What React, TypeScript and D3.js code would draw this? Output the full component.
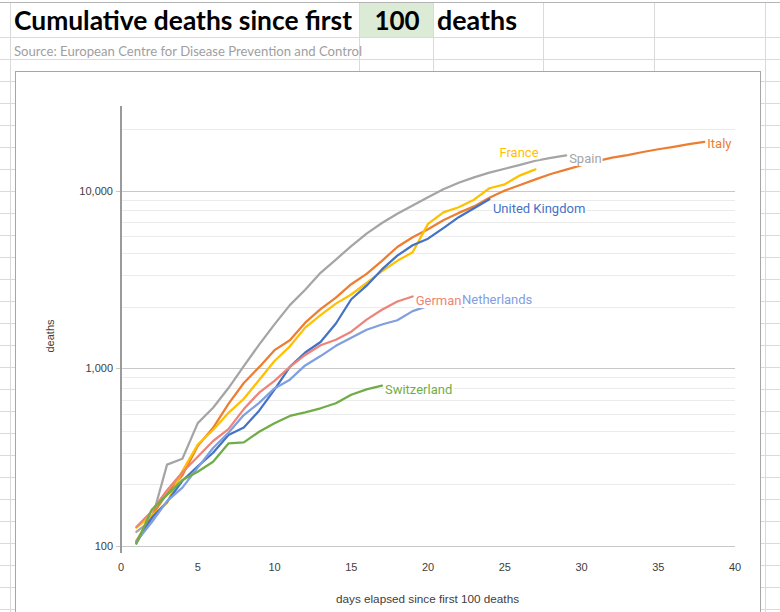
import React, { useEffect, useRef } from "react";
import * as d3 from "d3";

// cumulative deaths, day 1 = first day with 100+ deaths
const unitedKingdom = [104, 144, 177, 233, 281, 335, 422, 465, 578, 759, 1019, 1228, 1408, 1789, 2450, 2921, 3605, 4313, 4934, 5373, 6159, 7097, 7978, 8958];
const italy = [107, 148, 197, 250, 366, 463, 631, 827, 1016, 1266, 1441, 1809, 2158, 2503, 2978, 3405, 4032, 4825, 5476, 6077, 6820, 7503, 8165, 9134, 10023, 10779, 11591, 12428, 13155, 13915, 14681, 15362, 15887, 16523, 17127, 17669, 18279, 18849];
const spain = [120, 140, 287, 310, 492, 600, 775, 1030, 1360, 1770, 2270, 2770, 3450, 4100, 4880, 5740, 6580, 7420, 8270, 9200, 10200, 11100, 11900, 12650, 13300, 14000, 14750, 15300, 15800];
const france = [127, 148, 175, 264, 372, 450, 562, 674, 860, 1100, 1331, 1696, 1995, 2314, 2606, 3024, 3523, 4032, 4503, 6507, 7560, 8078, 8911, 10328, 10869, 12210, 13197];
const germany = [128, 157, 206, 260, 318, 390, 455, 590, 730, 850, 1020, 1190, 1350, 1450, 1610, 1880, 2140, 2380, 2540];
const netherlands = [106, 136, 179, 213, 276, 356, 434, 546, 639, 771, 864, 1039, 1173, 1339, 1487, 1651, 1766, 1867, 2101, 2248];
const switzerland = [103, 160, 194, 235, 262, 298, 378, 383, 440, 491, 540, 565, 596, 636, 710, 762, 800];

const seriesNames = ["Spain", "Italy", "France", "United Kingdom", "Germany", "Netherlands", "Switzerland"];
const seriesValues = [spain, italy, france, unitedKingdom, germany, netherlands, switzerland];
const seriesColors = ["#a5a5a5", "#ed7d31", "#ffc000", "#4472c4", "#ec8479", "#7f9fdf", "#70ad47"];
// label offset from the last point of each series (dx, dy of label centre-left)
const labelOffsets: [number, number][] = [[3, 3.5], [3, 2], [-36, -17], [3.5, 9.5], [3, 4.5], [34, -6], [3, 3.5]];

const xTicks = [0, 5, 10, 15, 20, 25, 30, 35, 40];
const yTicks = [100, 1000, 10000];
const yMinor = [100, 1000, 10000].flatMap((b) => [2, 3, 4, 5, 6, 7, 8].map((k) => (b * 10 * k) / 9)).filter((v) => v < 30000);

const W = 780;
const H = 612;

const CumulativeDeaths: React.FC = () => {
  const svgRef = useRef<SVGSVGElement>(null);

  useEffect(() => {
    if (!svgRef.current) return;
    const svg = d3.select(svgRef.current).html("");

    // ---- spreadsheet behind the chart
    svg.append("rect").attr("width", W).attr("height", H).attr("fill", "#ffffff");
    svg.append("rect").attr("x", 359.5).attr("y", 2.5).attr("width", 74).attr("height", 35).attr("fill", "#dcebd5");

    const rowLines = [37.5, 59.5];
    for (let yy = 81.5; yy < H; yy += 22) rowLines.push(yy);
    svg.selectAll("line.row").data(rowLines).join("line")
      .attr("x1", 0).attr("x2", W).attr("y1", (d) => d).attr("y2", (d) => d)
      .attr("stroke", "#dadada");
    svg.selectAll("line.col").data([10.5, 359.5, 433.5, 543.5, 654.5, 765.5]).join("line")
      .attr("x1", (d) => d).attr("x2", (d) => d).attr("y1", 2.5).attr("y2", H)
      .attr("stroke", "#dadada");
    svg.append("line").attr("x1", 0).attr("x2", W).attr("y1", 2.5).attr("y2", 2.5).attr("stroke", "#b4b4b4");

    const title = svg.append("g").attr("font-family", "Lato, 'Open Sans', sans-serif").attr("font-weight", "bold").attr("font-size", 26).attr("fill", "#000");
    title.append("text").attr("x", 14).attr("y", 30).attr("textLength", 338).attr("lengthAdjust", "spacingAndGlyphs").text("Cumulative deaths since first");
    title.append("text").attr("x", 397).attr("y", 30).attr("text-anchor", "middle").text("100");
    title.append("text").attr("x", 437).attr("y", 30).attr("textLength", 80).attr("lengthAdjust", "spacingAndGlyphs").text("deaths");

    svg.append("text").attr("x", 14).attr("y", 55.5).attr("font-family", "Lato, 'Open Sans', sans-serif").attr("font-size", 13)
      .attr("fill", "#a0a0a0").attr("textLength", 348).attr("lengthAdjust", "spacingAndGlyphs")
      .text("Source: European Centre for Disease Prevention and Control");

    // ---- chart area
    svg.append("rect").attr("x", 15.5).attr("y", 71.5).attr("width", 745).attr("height", 600)
      .attr("fill", "#ffffff").attr("stroke", "#a6a6a6");

    const x = d3.scaleLinear().domain([0, 40]).range([121, 735]);
    const y = d3.scaleLog().domain([100, 30000]).range([546, 106]);

    const grid = svg.append("g");
    grid.selectAll("line.minor").data(yMinor).join("line")
      .attr("x1", x(0)).attr("x2", x(40)).attr("y1", (d) => Math.round(y(d)) + 0.5).attr("y2", (d) => Math.round(y(d)) + 0.5)
      .attr("stroke", "#ebebeb");
    grid.selectAll("line.major").data(yTicks).join("line")
      .attr("x1", x(0) - 5).attr("x2", x(40)).attr("y1", (d) => Math.round(y(d)) + 0.5).attr("y2", (d) => Math.round(y(d)) + 0.5)
      .attr("stroke", "#c8c8c8");

    // y axis line
    svg.append("line").attr("x1", x(0)).attr("x2", x(0)).attr("y1", y(30000)).attr("y2", y(100) + 7)
      .attr("stroke", "#9a9a9a").attr("stroke-width", 2);

    const axisFont = "'Liberation Sans', Arial, sans-serif";
    svg.append("g").selectAll("text").data(yTicks).join("text")
      .attr("x", 113).attr("y", (d) => y(d) + 4).attr("text-anchor", "end")
      .attr("font-family", axisFont).attr("font-size", 11).attr("fill", "#404040")
      .text((d) => d3.format(",")(d));
    svg.append("g").selectAll("text").data(xTicks).join("text")
      .attr("x", (d) => x(d)).attr("y", 571).attr("text-anchor", "middle")
      .attr("font-family", axisFont).attr("font-size", 11).attr("fill", "#404040")
      .text((d) => String(d));

    svg.append("text").attr("x", 336).attr("y", 603)
      .attr("font-family", axisFont).attr("font-size", 11).attr("fill", "#404040")
      .attr("textLength", 183).attr("lengthAdjust", "spacingAndGlyphs")
      .text("days elapsed since first 100 deaths");
    svg.append("text").attr("transform", "translate(54,336) rotate(-90)").attr("text-anchor", "middle")
      .attr("font-family", axisFont).attr("font-size", 11).attr("fill", "#404040")
      .text("deaths");

    // ---- lines
    const line = d3.line<number>()
      .x((_d, i) => x(i + 1))
      .y((d) => y(d));

    svg.append("g").selectAll("path").data(seriesValues).join("path")
      .attr("fill", "none")
      .attr("stroke", (_d, i) => seriesColors[i])
      .attr("stroke-width", 2.25)
      .attr("stroke-linejoin", "round")
      .attr("stroke-linecap", "round")
      .attr("d", (d) => line(d));

    // ---- end labels with white boxes
    const labels = svg.append("g").attr("font-family", "Roboto, sans-serif").attr("font-size", 13);
    seriesValues.forEach((vals, i) => {
      const n = vals.length;
      const lx = x(n) + labelOffsets[i][0];
      const ly = y(vals[n - 1]) + labelOffsets[i][1];
      const g = labels.append("g");
      const t = g.append("text").attr("x", lx).attr("y", ly + 4.5).attr("fill", seriesColors[i]).text(seriesNames[i]);
      const bb = (t.node() as SVGTextElement).getBBox();
      g.insert("rect", "text").attr("x", bb.x - 1).attr("y", ly - 7).attr("width", bb.width + 2).attr("height", 14).attr("fill", "#ffffff");
    });
  }, []);

  return <svg ref={svgRef} width={W} height={H} style={{ position: "absolute", left: 0, top: 0, display: "block" }} />;
};

export default function App() {
  return <CumulativeDeaths />;
}
